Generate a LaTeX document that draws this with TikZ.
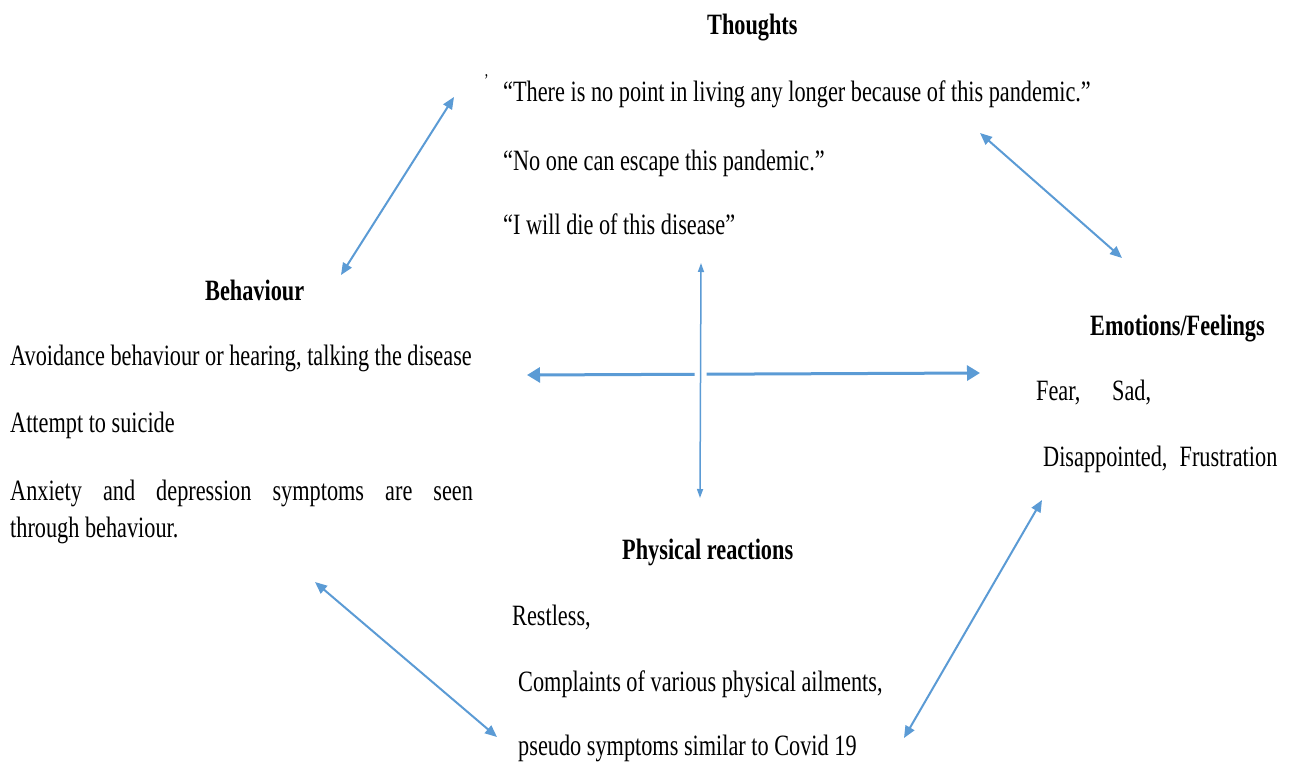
\documentclass[tikz,border=0pt]{standalone}
\usepackage{fontspec}
\setmainfont{Liberation Serif}
\usetikzlibrary{arrows.meta}
\definecolor{linkblue}{HTML}{5B9BD5}
% condensed setting of the serif face
\newcommand\narrow[1]{\scalebox{0.755}[1]{#1}}

\begin{document}
\begin{tikzpicture}[x=1pt,y=-1pt,
  txt/.style={anchor=base west, inner sep=0pt, font=\fontsize{29.5}{34}\selectfont},
  head/.style={txt, font=\fontsize{29.5}{34}\selectfont\bfseries},
  link/.style={draw=linkblue, line width=2pt,
    {Triangle[length=12pt,width=10pt]}-{Triangle[length=12pt,width=10pt]}},
  hlink/.style={draw=linkblue, line width=3pt,
    {Triangle[length=13pt,width=15pt]}-{Triangle[length=13pt,width=15pt]}},
  vlink/.style={draw=linkblue, line width=1.5pt,
    {Triangle[length=9pt,width=6pt]}-{Triangle[length=9pt,width=6pt]},
    preaction={draw=white, line width=12pt, arrows=-, shorten >=20pt, shorten <=20pt}}]

\fill[white] (0,0) rectangle (1295,768);
\useasboundingbox (0,0) rectangle (1295,768);

% Thoughts
\node[head] (thoughts) at (707,35) {\narrow{Thoughts}};
\node[txt, font=\fontsize{18}{22}\selectfont] (tick) at (484,86) {\narrow{\char"0027}};
\node[txt] (t1) at (503,101) {\narrow{“There is no point in living any longer because of this pandemic.”}};
\node[txt] (t2) at (503,170) {\narrow{“No one can escape this pandemic.”}};
\node[txt] (t3) at (503,234) {\narrow{“I will die of this disease”}};

% Behaviour
\node[head] (behaviour) at (205,300) {\narrow{Behaviour}};
\node[txt] (b1) at (10,365) {\narrow{Avoidance behaviour or hearing, talking the disease}};
\node[txt] (b2) at (10,432) {\narrow{Attempt to suicide}};
\node[txt] (b3) at (10,500) {\narrow{\hbox to 613pt{Anxiety\hfill and\hfill depression\hfill symptoms\hfill are\hfill seen}}};
\node[txt] (b4) at (10,537) {\narrow{through behaviour.}};

% Emotions / Feelings
\node[head] (emotions) at (1090,335) {\narrow{Emotions/Feelings}};
\node[txt] (e1) at (1036,400) {\narrow{Fear,\hspace*{42pt}Sad,}};
\node[txt] (e2) at (1043,466) {\narrow{Disappointed,\hspace*{16pt}Frustration}};

% Physical reactions
\node[head] (physical) at (622,559) {\narrow{Physical reactions}};
\node[txt] (p1) at (512,625) {\narrow{Restless,}};
\node[txt] (p2) at (518,691) {\narrow{Complaints of various physical ailments,}};
\node[txt] (p3) at (518,755) {\narrow{pseudo symptoms similar to Covid 19}};

% connector end points
\coordinate (tbA) at (454,97);
\coordinate (tbB) at (341,275);
\coordinate (teA) at (980,133);
\coordinate (teB) at (1122,258);
\coordinate (bpA) at (315,582);
\coordinate (bpB) at (497,737);
\coordinate (peA) at (1042,500);
\coordinate (peB) at (904,738);
\coordinate (hL) at (527,375);
\coordinate (hR) at (980,373);
\coordinate (vT) at (701,263);
\coordinate (vB) at (700,498);

\draw[link] (tbB) -- (tbA);
\draw[link] (teA) -- (teB);
\draw[link] (bpA) -- (bpB);
\draw[link] (peB) -- (peA);
\draw[hlink] (hL) -- (hR);
\draw[vlink] (vT) -- (vB);
\end{tikzpicture}
\end{document}
